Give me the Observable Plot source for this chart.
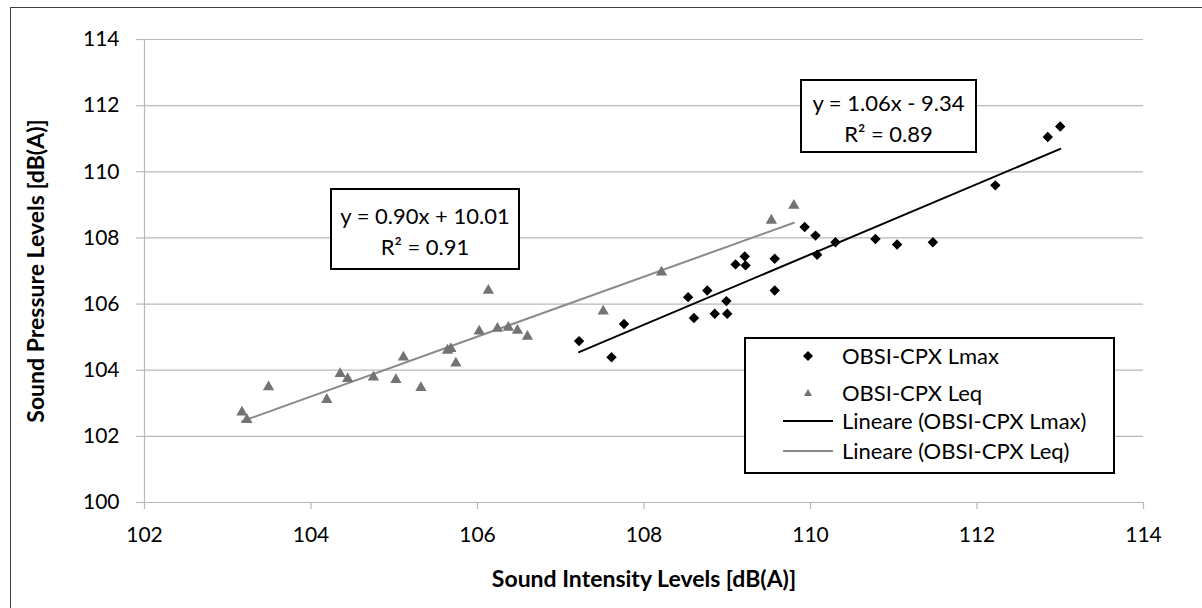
<!DOCTYPE html>
<html>
<head>
<meta charset="utf-8">
<script src="https://cdn.jsdelivr.net/npm/d3@7"></script>
<script src="https://cdn.jsdelivr.net/npm/@observablehq/plot@0.6"></script>
<style>
  html, body { margin: 0; padding: 0; background: #fff; overflow: hidden; }
  #chart { position: relative; width: 1202px; height: 608px; font-family: Lato, "Open Sans", sans-serif; color: #000; }
  #chart svg { position: absolute; left: 0; top: 0; }
  .frame { position: absolute; left: 10px; top: 7px; width: 1210px; height: 620px; border: 1.3px solid #404040; box-sizing: border-box; pointer-events: none; }
  .eq { position: absolute; border: 2px solid #000; background: #fff; box-sizing: border-box; text-align: center; font-size: 22px; line-height: 31px; }
  .legend { position: absolute; left: 744px; top: 337px; width: 371px; height: 137px; border: 2px solid #000; background: #fff; box-sizing: border-box; font-size: 22px; }
  .legend .key { position: absolute; }
  .legend .lbl { position: absolute; left: 96px; white-space: nowrap; line-height: 26px; }
</style>
</head>
<body>
<div id="chart"></div>
<script>
// Sound intensity (x) vs sound pressure (y), OBSI-CPX measurements
const lmaxX = [107.22, 107.61, 107.76, 108.53, 108.60, 108.76, 108.85, 108.99, 109.00, 109.10, 109.21, 109.22,
               109.57, 109.57, 109.93, 110.06, 110.08, 110.30, 110.78, 111.04, 111.47, 112.22, 112.85, 113.00];
const lmaxY = [104.88, 104.39, 105.40, 106.21, 105.58, 106.41, 105.71, 106.09, 105.71, 107.20, 107.44, 107.17,
               107.37, 106.41, 108.33, 108.07, 107.49, 107.87, 107.97, 107.80, 107.87, 109.59, 111.05, 111.37];

const leqX = [103.17, 103.23, 103.49, 104.19, 104.35, 104.44, 104.75, 105.02, 105.11, 105.32, 105.64, 105.68,
              105.74, 106.02, 106.13, 106.24, 106.37, 106.48, 106.60, 107.51, 108.21, 109.53, 109.80];
const leqY = [102.73, 102.50, 103.49, 103.11, 103.89, 103.74, 103.79, 103.71, 104.39, 103.47, 104.60, 104.65,
              104.21, 105.18, 106.41, 105.26, 105.29, 105.20, 105.02, 105.78, 106.96, 108.53, 108.98];

const xTicks = [102, 104, 106, 108, 110, 112, 114];
const yTicks = [100, 102, 104, 106, 108, 110, 112, 114];

const seriesNames = ["OBSI-CPX Lmax", "OBSI-CPX Leq"];
const trendNames = ["Lineare (OBSI-CPX Lmax)", "Lineare (OBSI-CPX Leq)"];
const eqLmax = ["y = 1.06x - 9.34", "R² = 0.89"];
const eqLeq = ["y = 0.90x + 10.01", "R² = 0.91"];

const xTitle = "Sound Intensity Levels [dB(A)]";
const yTitle = "Sound Pressure Levels [dB(A)]";

const lmax = lmaxX.map((x, i) => ({x, y: lmaxY[i]}));
const leq = leqX.map((x, i) => ({x, y: leqY[i]}));

const gridColor = "#b9b9b9";
const leqColor = "#737373";
const leqLine = "#8a8a8a";

const chart = Plot.plot({
  width: 1202,
  height: 608,
  marginLeft: 144,
  marginRight: 59,
  marginTop: 39,
  marginBottom: 106,
  x: {domain: [102, 114]},
  y: {domain: [100, 114]},
  style: {fontFamily: "Lato, 'Open Sans', sans-serif", fontSize: "21px", color: "#000", background: "transparent"},
  marks: [
    Plot.gridY(yTicks, {stroke: gridColor, strokeOpacity: 1, strokeWidth: 1.2}),
    Plot.ruleX([102], {stroke: gridColor, strokeWidth: 1.2}),
    Plot.axisY(yTicks, {tickSize: 8, tickPadding: 17, stroke: gridColor, strokeWidth: 1.2, fill: "#000", fontSize: 21, label: null, tickFormat: d => String(d)}),
    Plot.axisX(xTicks, {tickSize: 7, tickPadding: 18, stroke: gridColor, strokeWidth: 1.2, fill: "#000", fontSize: 21, label: null, tickFormat: d => String(d)}),
    Plot.text([xTitle], {frameAnchor: "bottom", dy: 84, fontWeight: "bold", fontSize: 23, fill: "#000"}),
    Plot.text([yTitle], {frameAnchor: "left", textAnchor: "middle", dx: -108, rotate: -90, fontWeight: "bold", fontSize: 23, fill: "#000"}),
    Plot.linearRegressionY(leq, {x: "x", y: "y", ci: 0, stroke: leqLine, strokeWidth: 2}),
    Plot.linearRegressionY(lmax, {x: "x", y: "y", ci: 0, stroke: "#000", strokeWidth: 2}),
    Plot.dot(leq, {x: "x", y: "y", symbol: "triangle", r: 4.2, fill: leqColor, stroke: null}),
    Plot.dot(lmax, {x: "x", y: "y", symbol: "diamond2", r: 4.7, fill: "#000", stroke: null})
  ]
});

const root = document.getElementById("chart");
root.appendChild(chart);

// outer chart border
const frame = document.createElement("div");
frame.className = "frame";
root.appendChild(frame);

// trendline equation boxes
function eqBox(lines, left, top, width, height, padTop) {
  const d = document.createElement("div");
  d.className = "eq";
  Object.assign(d.style, {left: left + "px", top: top + "px", width: width + "px", height: height + "px", paddingTop: padTop + "px"});
  lines.forEach(t => { const s = document.createElement("div"); s.textContent = t; d.appendChild(s); });
  root.appendChild(d);
}
eqBox(eqLmax, 800, 79, 177, 74, 6);
eqBox(eqLeq, 330, 188, 190, 82, 10);

// legend
const legend = document.createElement("div");
legend.className = "legend";
const svgNS = "http://www.w3.org/2000/svg";
const rowsY = [17, 54, 82, 112];
const keys = [
  {kind: "diamond", color: "#000"},
  {kind: "triangle", color: leqColor},
  {kind: "line", color: "#000"},
  {kind: "line", color: leqLine}
];
const labels = [...seriesNames, ...trendNames];
labels.forEach((t, i) => {
  const cy = rowsY[i];
  const key = document.createElementNS(svgNS, "svg");
  key.setAttribute("width", 60); key.setAttribute("height", 20);
  key.setAttribute("class", "key");
  key.style.left = "35px"; key.style.top = (cy - 10) + "px";
  const k = keys[i];
  let el;
  if (k.kind === "diamond") {
    el = document.createElementNS(svgNS, "path");
    el.setAttribute("d", "M27,5 L32,10 L27,15 L22,10 Z");
    el.setAttribute("fill", k.color);
  } else if (k.kind === "triangle") {
    el = document.createElementNS(svgNS, "path");
    el.setAttribute("d", "M27,6 L31,13 L23,13 Z");
    el.setAttribute("fill", k.color);
  } else {
    el = document.createElementNS(svgNS, "line");
    el.setAttribute("x1", 2); el.setAttribute("x2", 52);
    el.setAttribute("y1", 10); el.setAttribute("y2", 10);
    el.setAttribute("stroke", k.color); el.setAttribute("stroke-width", 2);
  }
  key.appendChild(el);
  legend.appendChild(key);
  const lbl = document.createElement("div");
  lbl.className = "lbl";
  lbl.textContent = t;
  lbl.style.top = (cy - 13) + "px";
  legend.appendChild(lbl);
});
root.appendChild(legend);
</script>
</body>
</html>
